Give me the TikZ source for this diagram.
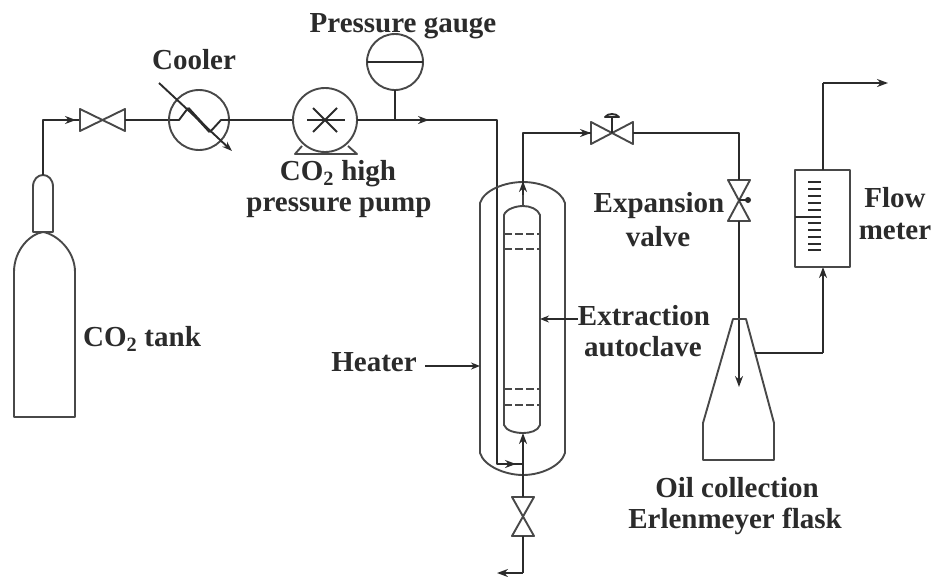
\documentclass[tikz,border=0pt]{standalone}
\usepackage{fontspec}
\setmainfont{Liberation Serif}
\usepackage{xcolor}
\usetikzlibrary{calc,arrows.meta}
\definecolor{ink}{HTML}{2B2B2B}
\definecolor{wall}{HTML}{484848}
\tikzset{
  pipe/.style={draw=ink, line width=1.9pt, line join=round},
  flow/.style={pipe, -{Stealth[length=11pt,width=8pt]}},
  vessel/.style={draw=wall, line width=1.9pt, line join=round},
  lab/.style={text=ink, font=\bfseries\fontsize{29}{32}\selectfont, inner sep=0pt, align=center},
}

\begin{document}
\begin{tikzpicture}[x=1pt,y=-1pt]
  \useasboundingbox (0,0) rectangle (933,576);
  % coordinates of the line
  \coordinate (tanktop) at (43,175);
  \coordinate (bend1) at (43,120);
  \coordinate (va) at (80,120);
  \coordinate (vb) at (125,120);
  \coordinate (cool) at (199,120);
  \coordinate (pump) at (325,120);
  \coordinate (gauge) at (395,62);
  \coordinate (tee) at (395,120);
  \coordinate (bend2) at (497,120);
  \coordinate (bend3) at (497,464);
  \coordinate (inlet) at (523,464);
  \coordinate (coltop) at (523,206);
  \coordinate (colbot) at (523,433);
  \coordinate (bend4) at (523,133);
  \coordinate (vc) at (591,133);
  \coordinate (vd) at (633,133);
  \coordinate (bend5) at (739,133);
  \coordinate (ve) at (739,180);
  \coordinate (vf) at (739,221);
  \coordinate (drop) at (739,387);
  \coordinate (neck) at (755,353);
  \coordinate (bend6) at (823,353);
  \coordinate (meterbot) at (823,267);
  \coordinate (metertop) at (823,170);
  \coordinate (bend7) at (823,83);
  \coordinate (vent) at (888,83);
  \coordinate (vg) at (523,497);
  \coordinate (vh) at (523,536);
  \coordinate (bend8) at (523,573);
  \coordinate (drain) at (497,573);

  % tank
  \draw[vessel] (14,417) -- (14,272) .. controls (14,250) and (30,234) .. (43,232)
    .. controls (56,234) and (75,250) .. (75,272) -- (75,417) -- cycle;
  \draw[vessel] (33,232) -- (33,187) .. controls (33,179) and (38,175) .. (43,175)
    .. controls (48,175) and (53,179) .. (53,187) -- (53,232) -- cycle;
  \draw[pipe] (tanktop) -- (bend1) -- (va);
  \draw[flow] (bend1) -- (76,120);

  % valves
  \foreach \A/\B in {va/vb,vc/vd}
    \draw[vessel] (\A) ++(0,-11) -- ++(0,22) -- ($(\B)+(0,-11)$) -- ++(0,22) -- cycle;
  \foreach \A/\B in {ve/vf,vg/vh}
    \draw[vessel] (\A) ++(-11,0) -- ++(22,0) -- ($(\B)+(-11,0)$) -- ++(22,0) -- cycle;
  \draw[pipe] (612,133) -- (612,117);
  \draw[pipe] (605,117) .. controls (608,113) and (616,113) .. (619,117) -- cycle;
  \draw[pipe] (739,200) -- (748,200);
  \fill[ink] (748,200) circle (3);

  % cooler
  \draw[pipe] (vb) -- ($(cool)+(-30,0)$);
  \draw[vessel] (cool) circle (30);
  \draw[pipe] ($(cool)+(-29,0)$) -- (179,120) -- (188,108);
  \draw[pipe,line width=2.8pt] (188,108) -- (210,132);
  \draw[pipe] (210,132) -- (221,120) -- ($(cool)+(30,0)$);
  \draw[pipe,-{Stealth[length=10pt,width=7pt]}] (159,83) -- (232,151);

  % pump
  \draw[pipe] ($(cool)+(30,0)$) -- ($(pump)+(-32,0)$);
  \draw[vessel] (pump) circle (32);
  \draw[pipe] (307,120) -- (345,120);
  \draw[pipe] (313,108) -- (337,132);
  \draw[pipe] (313,132) -- (337,108);
  \draw[vessel] (302,146) -- (295,154) -- (357,154) -- (348,146);

  % gauge
  \draw[vessel] (gauge) circle (28);
  \draw[pipe] (367,62) -- (423,62);
  \draw[pipe] (395,90) -- (tee);
  \draw[pipe] ($(pump)+(32,0)$) -- (bend2) -- (bend3) -- (inlet);
  \draw[flow] (tee) -- (429,120);
  \draw[flow] (bend3) -- (516,464);

  % heater and column
  \draw[vessel] (480,203) .. controls (484,190) and (505,182) .. (523,182)
    .. controls (541,182) and (561,190) .. (565,203) -- (565,453)
    .. controls (561,466) and (541,475) .. (523,475)
    .. controls (505,475) and (484,466) .. (480,453) -- cycle;
  \draw[vessel] (504,215) .. controls (506,209) and (516,206) .. (coltop)
    .. controls (530,206) and (538,209) .. (540,215) -- (540,425)
    .. controls (538,431) and (530,433) .. (colbot)
    .. controls (516,433) and (506,431) .. (504,425) -- cycle;
  \foreach \Y in {234,249,389,405}
    \draw[vessel,dash pattern=on 8pt off 3pt] (504,\Y) -- (540,\Y);

  \draw[vessel] (coltop) -- (523,190);
  \draw[pipe] (523,190) -- (bend4) -- (vc);
  \draw[flow] (523,195) -- (523,181);
  \draw[flow] (570,133) -- (vc);
  \draw[pipe] (vd) -- (bend5) -- (ve);
  \draw[pipe] (vf) -- (739,320);
  \draw[flow] (739,320) -- (drop);

  % bottom drain
  \draw[pipe] (vg) -- (523,450);
  \draw[flow] (523,450) -- (colbot);
  \draw[pipe] (vh) -- (bend8);
  \draw[flow] (bend8) -- (drain);

  % flask
  \draw[vessel] (733,319) -- (746,319) -- (774,423) -- (774,460) -- (703,460) -- (703,423) -- cycle;
  \draw[pipe] (neck) -- (bend6);
  \draw[flow] (bend6) -- (meterbot);

  % flow meter
  \draw[vessel] (795,170) rectangle (850,267);
  \draw[pipe] (795,217) -- (821,217);
  \foreach \Y in {182,189,196,203,210,223,230,237,244,250}
    \draw[pipe,line width=1.4pt] (808,\Y) -- (821,\Y);
  \draw[pipe] (metertop) -- (bend7);
  \draw[flow] (bend7) -- (vent);

  % pointers
  \coordinate (heatertip) at (480,366);
  \coordinate (columntip) at (540,319);
  \node[lab] (heater) at (374,362) {Heater};
  \node[lab] (extraction) at (644,316) {Extraction};
  \draw[flow,-{Stealth[length=9pt,width=7pt]}] (425,366) -- (heatertip);
  \draw[flow,-{Stealth[length=9pt,width=7pt]}] (extraction.west) ++(0,3) -- (columntip);

  \node[lab] (coolerlab) at (194,60) {Cooler};
  \node[lab] (gaugelab) at (403,26) {Pressure gauge};
  \node[lab] (pumplab1) at (338,174) {CO\textsubscript{2} high};
  \node[lab] (pumplab2) at (339,208) {pressure pump};
  \node[lab] (tanklab) at (142,339) {CO\textsubscript{2} tank};
  \node[lab] (autoclave) at (643,347) {autoclave};
  \node[lab] (expansion) at (659,206) {Expansion};
  \node[lab] (valvelab) at (658,237) {valve};
  \node[lab] (flowlab) at (895,198) {Flow};
  \node[lab] (meterlab) at (895,231) {meter};
  \node[lab] (oillab) at (737,488) {Oil collection};
  \node[lab] (flasklab) at (735,521) {Erlenmeyer flask};
\end{tikzpicture}
\end{document}
